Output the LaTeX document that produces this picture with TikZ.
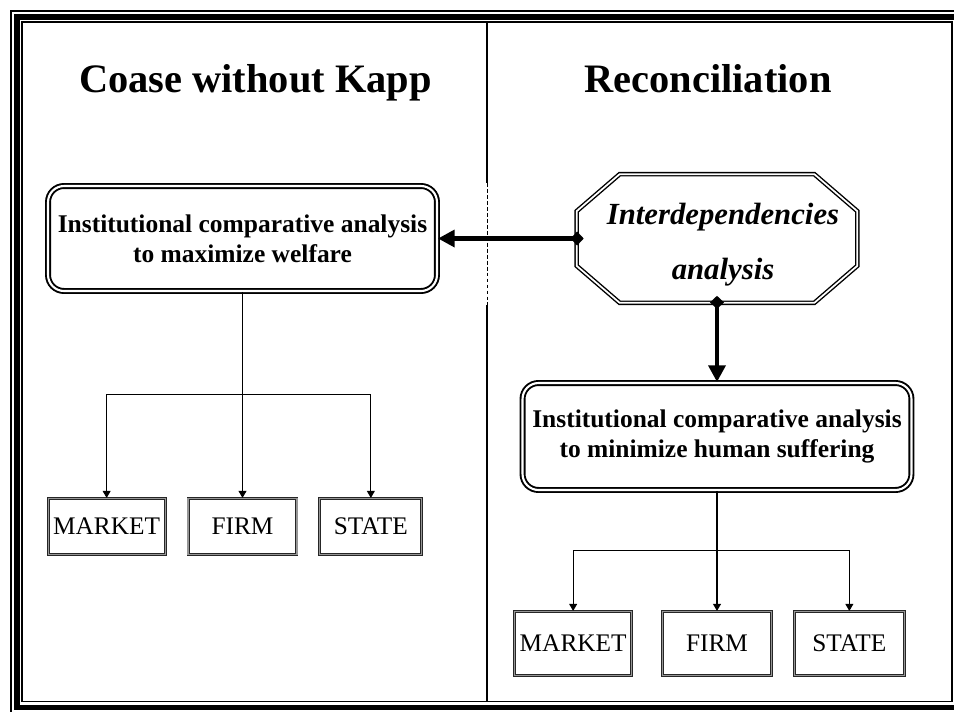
\documentclass[tikz,border=0pt]{standalone}
\usepackage{fontspec}
\setmainfont{Liberation Serif}
\usetikzlibrary{arrows.meta,positioning,calc}
\definecolor{bordergray}{RGB}{150,150,150}

\begin{document}
\begin{tikzpicture}[x=0.02cm,y=-0.02cm,>={Triangle[length=4pt,width=4.5pt]},
  title/.style={font=\fontsize{23}{27}\selectfont\bfseries,anchor=base},
  bigbox/.style={draw,double,double distance=1.2pt,line width=1.1pt,rounded corners=0.32cm,align=center,minimum width=7.78cm,font=\fontsize{14.5}{17}\selectfont\bfseries},
  smallbox/.style={draw=black!85,double=bordergray,double distance=0.7pt,line width=0.5pt,inner sep=1pt,font=\fontsize{14.4}{17}\selectfont},
  octline/.style={draw,double,double distance=1pt,line width=0.8pt,line join=miter},
  tree/.style={line width=0.6pt,->},
  bigarrow/.style={line width=2.8pt,arrows={Diamond[length=7.5pt,width=8pt]-Triangle[length=9.5pt,width=9.5pt]},shorten <=-4pt}]
\useasboundingbox (0,0) rectangle (954,711);
\draw[line width=1.1pt] (21.7,21.7) rectangle (952.3,701.5);
\draw[line width=3.4pt] (17,17) rectangle (957,707.5);
\draw[line width=1.1pt] (11,11) rectangle (963,713);

\coordinate (divtop) at (487,22);
\coordinate (gaptop) at (487,183);
\coordinate (gapbottom) at (487,305);
\coordinate (divbottom) at (487,701);
\draw[line width=1.7pt] (divtop) -- (gaptop) (gapbottom) -- (divbottom);
\draw[line width=0.5pt,dash pattern=on 2.2pt off 1.2pt] (gaptop) -- (gapbottom);

\node[title] (lefttitle) at (255.5,92) {Coase without Kapp};
\node[title] (righttitle) at (708,92) {Reconciliation};

\node[bigbox,minimum height=2.1cm] (welfare) at (242.5,238.5) {Institutional comparative analysis\\to maximize welfare};
\node[minimum width=5.6cm,minimum height=2.56cm] (interdep) at (717,238.5) {};
\node[align=center,font=\fontsize{17.5}{31}\selectfont\bfseries\itshape] (interdeptext) at ($(interdep)+(6,6)$) {Interdependencies\\analysis};
\draw[octline] ($(interdep.north west)+(43,0)$) -- ($(interdep.north east)+(-43,0)$) -- ($(interdep.north east)+(0,37)$) -- ($(interdep.south east)+(0,-37)$) -- ($(interdep.south east)+(-43,0)$) -- ($(interdep.south west)+(43,0)$) -- ($(interdep.south west)+(0,-37)$) -- ($(interdep.north west)+(0,37)$) -- cycle;
\node[bigbox,minimum height=2.14cm] (suffering) at (717,436.5) {Institutional comparative analysis\\to minimize human suffering};

\draw[bigarrow] (interdep.west) -- (welfare.east);
\draw[bigarrow] (interdep.south) -- (suffering.north);

\node[smallbox,minimum width=2.18cm,minimum height=1.12cm,below=4.12cm of welfare] (lfirm) {FIRM};
\node[smallbox,minimum width=2.34cm,minimum height=1.12cm,left=0.44cm of lfirm] (lmarket) {MARKET};
\node[smallbox,minimum width=2.04cm,minimum height=1.12cm,right=0.44cm of lfirm] (lstate) {STATE};

\node[smallbox,minimum width=2.18cm,minimum height=1.28cm,below=2.4cm of suffering] (rfirm) {FIRM};
\node[smallbox,minimum width=2.34cm,minimum height=1.28cm,left=0.6cm of rfirm] (rmarket) {MARKET};
\node[smallbox,minimum width=2.2cm,minimum height=1.28cm,right=0.44cm of rfirm] (rstate) {STATE};

\coordinate (lsplit) at ($(welfare.south)!0.5!(lfirm.north)$);
\draw[tree] (welfare.south) -- (lfirm.north);
\draw[tree] (lsplit) -| (lmarket.north);
\draw[tree] (lsplit) -| (lstate.north);

\coordinate (rsplit) at ($(suffering.south)!0.5!(rfirm.north)$);
\draw[tree] (suffering.south) -- (rfirm.north);
\draw[tree] (rsplit) -| (rmarket.north);
\draw[tree] (rsplit) -| (rstate.north);
\end{tikzpicture}
\end{document}
